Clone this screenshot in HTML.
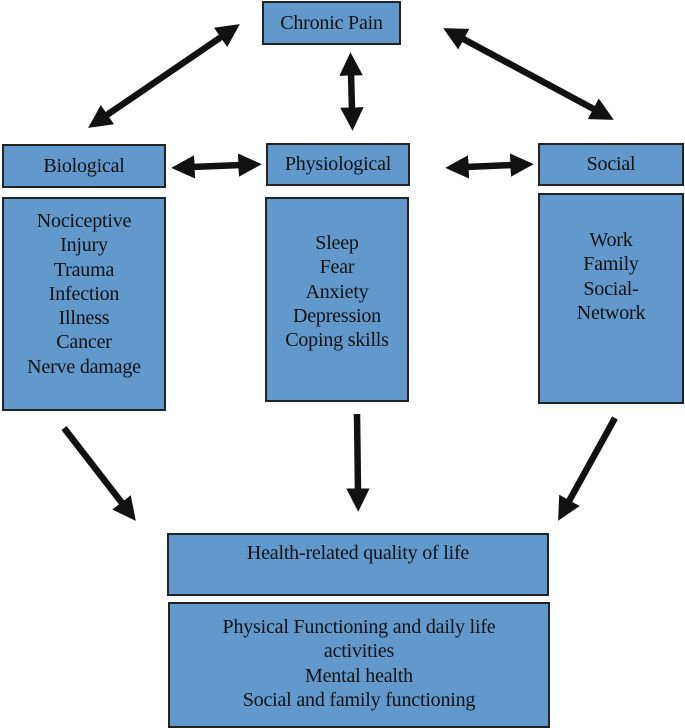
<!DOCTYPE html>
<html><head><style>
body{margin:0;width:685px;height:726px;background:#fff;position:relative;overflow:hidden;font-family:"Liberation Serif",serif;}
.b{position:absolute;background:#6199cc;border:2px solid #222;box-sizing:border-box;text-align:center;color:#111;font-size:20px;line-height:24.3px;letter-spacing:-0.2px;}
</style></head><body>
<div class="b" style="left:262px;top:1px;width:139px;height:44px;line-height:40px">Chronic Pain</div>
<div class="b" style="left:2px;top:144px;width:164px;height:44px;line-height:40px">Biological</div>
<div class="b" style="left:266px;top:143px;width:144px;height:43px;line-height:39px">Physiological</div>
<div class="b" style="left:538px;top:143px;width:146px;height:43px;line-height:39px">Social</div>
<div class="b" style="left:2px;top:197px;width:164px;height:214px;padding-top:10px">Nociceptive<br>Injury<br>Trauma<br>Infection<br>Illness<br>Cancer<br>Nerve damage</div>
<div class="b" style="left:265px;top:197px;width:144px;height:205px;padding-top:32px">Sleep<br>Fear<br>Anxiety<br>Depression<br>Coping skills</div>
<div class="b" style="left:538px;top:193px;width:146px;height:211px;padding-top:33px">Work<br>Family<br>Social-<br>Network</div>
<div class="b" style="left:167px;top:533px;width:382px;height:63px;padding-top:6px">Health-related quality of life</div>
<div class="b" style="left:168px;top:602px;width:382px;height:126px;padding-top:11px">Physical Functioning and daily life<br>activities<br>Mental health<br>Social and family functioning</div>
<svg width="685" height="726" style="position:absolute;left:0;top:0">
<defs><marker id="a" markerWidth="3.6" markerHeight="3.6" refX="0.4" refY="1.8" orient="auto-start-reverse" markerUnits="strokeWidth"><path d="M0,0L3.6,1.8L0,3.6z" fill="#111"/></marker></defs>
<g stroke="#111" stroke-width="6.5" fill="none">
<line x1="222.7" y1="35.9" x2="105.3" y2="116.1" marker-start="url(#a)" marker-end="url(#a)"/>
<line x1="461.5" y1="38" x2="595.5" y2="110" marker-start="url(#a)" marker-end="url(#a)"/>
<line x1="351" y1="73" x2="352" y2="110" marker-start="url(#a)" marker-end="url(#a)"/>
<line x1="192" y1="167" x2="241" y2="165" marker-start="url(#a)" marker-end="url(#a)"/>
<line x1="466" y1="167" x2="513" y2="165" marker-start="url(#a)" marker-end="url(#a)"/>
<line x1="64" y1="428" x2="123.1" y2="504.4" marker-end="url(#a)"/>
<line x1="357" y1="414" x2="358" y2="491" marker-end="url(#a)"/>
<line x1="615" y1="418" x2="568.2" y2="502.6" marker-end="url(#a)"/>
</g></svg>
</body></html>
